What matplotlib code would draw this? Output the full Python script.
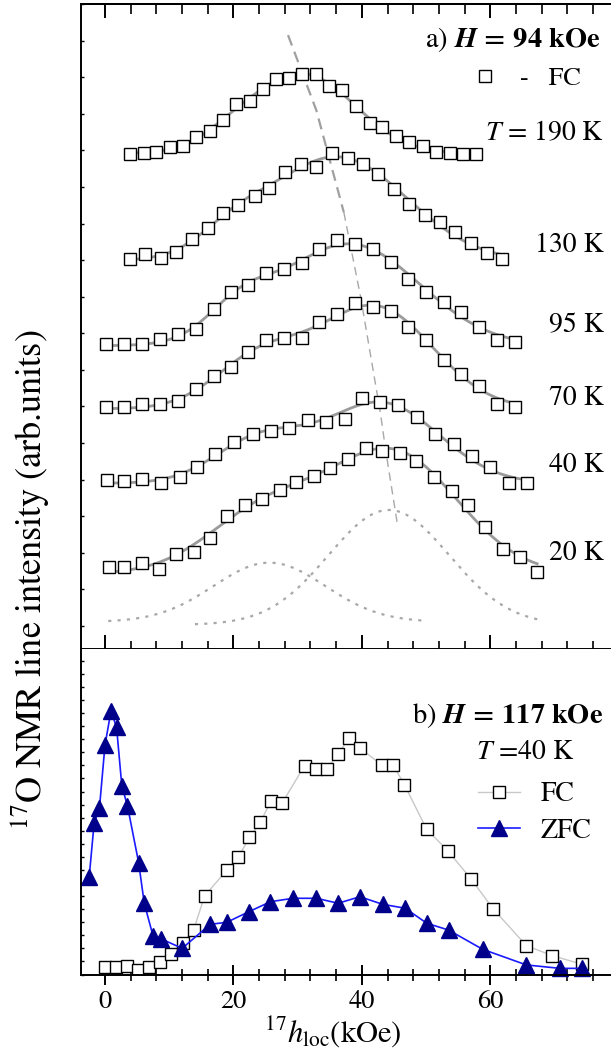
import numpy as np
import matplotlib
matplotlib.use('Agg')
import matplotlib.pyplot as plt
from matplotlib.ticker import MultipleLocator

plt.rcParams['font.family'] = 'STIXGeneral'
plt.rcParams['mathtext.fontset'] = 'stix'

# ---- a) H = 94 kOe, FC spectra (stacked, arb. units) ----
x190 = [3.9, 6.0, 8.0, 10.1, 12.1, 14.2, 16.3, 18.4, 20.4, 22.6, 24.6, 26.6, 28.7, 30.7,
        32.9, 34.9, 36.9, 39.1, 41.2, 43.2, 45.3, 47.4, 49.5, 51.5, 53.7, 55.7, 57.7]
y190 = [12.90, 12.93, 12.95, 13.09, 13.12, 13.37, 13.52, 13.83, 14.27, 14.35, 14.67, 14.95, 14.97, 15.08,
        15.09, 14.76, 14.66, 14.21, 13.75, 13.63, 13.40, 13.23, 13.12, 12.96, 12.94, 12.90, 12.90]

x130 = [3.9, 6.3, 8.7, 11.1, 13.6, 16.0, 18.3, 20.7, 23.3, 25.6, 28.0, 30.5, 32.9, 35.3,
        37.8, 40.1, 42.5, 45.0, 47.4, 49.8, 52.2, 54.5, 57.0, 59.5, 61.8]
y130 = [10.02, 10.16, 10.07, 10.23, 10.57, 10.87, 11.30, 11.51, 11.75, 11.96, 12.42, 12.64, 12.55, 12.93,
        12.79, 12.64, 12.36, 11.95, 11.54, 11.24, 11.04, 10.77, 10.47, 10.20, 10.03]

x95 = [0.2, 3.0, 5.8, 8.6, 11.4, 14.1, 16.9, 19.6, 22.3, 25.1, 27.9, 30.6, 33.4, 36.2,
       39.0, 41.8, 44.5, 47.2, 50.0, 52.8, 55.5, 58.3, 61.1, 63.8]
y95 = [7.70, 7.70, 7.70, 7.84, 7.98, 8.13, 8.65, 9.13, 9.31, 9.64, 9.76, 9.93, 10.29, 10.55,
       10.43, 10.29, 9.95, 9.48, 9.13, 8.85, 8.57, 8.17, 7.81, 7.75]

x70 = x95
y70 = [5.98, 5.99, 6.08, 6.07, 6.14, 6.48, 6.84, 7.07, 7.48, 7.81, 7.87, 7.87, 8.31, 8.54,
       8.83, 8.72, 8.61, 8.18, 7.81, 7.27, 6.90, 6.56, 6.07, 5.98]

x40 = [0.3, 3.0, 5.8, 8.7, 11.6, 14.4, 17.2, 20.1, 23.0, 25.9, 28.7, 31.6, 34.4, 37.3,
       40.0, 42.9, 45.7, 48.6, 51.4, 54.3, 57.1, 60.0, 62.9, 65.7]
y40 = [3.99, 3.97, 4.01, 3.90, 4.08, 4.35, 4.70, 5.03, 5.24, 5.34, 5.41, 5.63, 5.57, 5.65,
       6.22, 6.13, 6.04, 5.72, 5.25, 4.97, 4.64, 4.34, 3.92, 3.92]

x20 = [0.6, 3.0, 5.7, 8.4, 11.1, 13.8, 16.3, 19.0, 21.8, 24.4, 27.2, 29.8, 32.5, 35.1,
       37.8, 40.6, 43.2, 45.9, 48.5, 51.2, 54.0, 56.6, 59.2, 62.0, 64.6, 67.3]
y20 = [1.62, 1.62, 1.73, 1.57, 1.97, 2.03, 2.41, 3.01, 3.30, 3.46, 3.72, 3.93, 4.10, 4.33,
       4.56, 4.86, 4.78, 4.72, 4.51, 4.08, 3.70, 3.31, 2.71, 2.11, 1.88, 1.48]

temp_labels = [r'$T$ = 190 K', '130 K', '95 K', '70 K', '40 K', '20 K']
label_ypix = [134, 245, 326, 398, 465, 553]

# 20 K decomposition into two lines (dotted)
comp_center = [25.6, 44.2]
comp_sigma = [8.7, 9.4]
comp_amp = [1.62, 3.14]
comp_base = [0.11, 0.03]
comp_xmin = [0.5, 14.0]
comp_xmax = [49.3, 67.5]

# line through the peak positions
peak_x = [28.5, 32.9, 37.2, 39.8, 42.9, 43.7, 45.6]
peak_y = [16.15, 14.10, 11.30, 9.00, 5.81, 4.81, 2.71]

# ---- b) H = 117 kOe, T = 40 K ----
fc_x = [0.0, 1.75, 3.44, 5.19, 6.88, 8.63, 10.32, 12.07, 13.81, 15.51, 19.0, 20.75, 22.5, 24.19,
        25.88, 27.57, 31.07, 32.81, 34.51, 36.31, 38.0, 39.75, 43.13, 44.88, 46.63, 50.07,
        53.45, 57.0, 60.5, 65.63, 69.67, 74.31]
fc_y = [0.60, 0.60, 0.65, 0.32, 0.60, 0.98, 1.57, 2.39, 3.43, 6.01, 8.00, 8.97, 10.50, 11.65,
        13.30, 13.10, 15.98, 15.75, 15.75, 16.85, 18.12, 17.31, 16.01, 16.01, 14.52, 11.13,
        9.43, 7.31, 4.99, 2.20, 1.44, 0.78]
zfc_x = [-2.46, -1.69, -0.87, 0.0, 0.93, 1.8, 2.62, 3.49, 5.24, 6.11, 7.48, 8.68, 12.01, 16.38,
         18.95, 22.39, 25.77, 29.27, 32.92, 36.31, 39.69, 43.24, 46.74, 50.12, 53.51, 58.8,
         65.63, 70.87, 74.31]
zfc_y = [7.48, 11.61, 12.72, 17.56, 20.16, 18.91, 14.42, 12.92, 8.55, 5.45, 2.95, 2.74, 2.00, 3.84,
         3.99, 4.80, 5.57, 5.83, 5.83, 5.45, 5.95, 5.37, 5.07, 3.92, 3.40, 1.93, 0.73, 0.47, 0.47]


def gauss(x, c, s):
    return np.exp(-(x - c) ** 2 / (2 * s ** 2))


def two_line_fit(x, y):
    # baseline + two gaussian lines, least squares over a grid of centres/widths
    x = np.asarray(x, float)
    y = np.asarray(y, float)
    C, S = np.meshgrid(np.arange(10, 50.5, 1.0), np.arange(4, 14.5, 1.0))
    C, S = C.ravel(), S.ravel()
    G = gauss(x[None, :], C[:, None], S[:, None])
    K = len(C)
    g1 = G.sum(1)
    gg = G @ G.T
    gy = G @ y
    d = np.diag(gg)
    M = np.zeros((K, K, 3, 3))
    M[..., 0, 0] = len(x)
    M[..., 0, 1] = M[..., 1, 0] = g1[:, None]
    M[..., 0, 2] = M[..., 2, 0] = g1[None, :]
    M[..., 1, 1] = d[:, None]
    M[..., 2, 2] = d[None, :]
    M[..., 1, 2] = M[..., 2, 1] = gg
    M += 1e-6 * np.eye(3)
    b = np.stack([np.full((K, K), y.sum()),
                  np.broadcast_to(gy[:, None], (K, K)),
                  np.broadcast_to(gy[None, :], (K, K))], -1)
    coef = np.linalg.solve(M, b[..., None])[..., 0]
    sse = y @ y - (coef * b).sum(-1)
    bad = (C[:, None] >= C[None, :]) | (coef[..., 1] < 0) | (coef[..., 2] < 0)
    sse[bad] = np.inf
    i, j = np.unravel_index(np.argmin(sse), sse.shape)
    a0, a1, a2 = coef[i, j]
    xs = np.linspace(x.min(), x.max(), 300)
    return xs, a0 + a1 * gauss(xs, C[i], S[i]) + a2 * gauss(xs, C[j], S[j])


W, H = 611, 1059
fig = plt.figure(figsize=(W / 100, H / 100), dpi=100)
ax1 = fig.add_axes([81 / W, 1 - 649 / H, 530 / W, 645 / H])
ax2 = fig.add_axes([81 / W, 1 - 974.5 / H, 530 / W, 326 / H])

for ax in (ax1, ax2):
    ax.set_xlim(-3.74, 78.8)
    ax.spines['right'].set_visible(False)
    for sp in ax.spines.values():
        sp.set_linewidth(1.4)
    ax.xaxis.set_major_locator(MultipleLocator(20))
    ax.xaxis.set_minor_locator(MultipleLocator(4))
    ax.yaxis.set_major_locator(MultipleLocator(1))
    ax.tick_params(axis='y', which='major', direction='in', length=2.5, width=1.0, labelleft=False)
    ax.tick_params(axis='x', which='major', direction='inout', length=14, width=1.4,
                   labelsize=19, pad=4)
    ax.tick_params(axis='x', which='minor', direction='inout', length=8, width=1.2)

# ---- panel a ----
ax1.set_ylim(-0.63, 17.0)
ax1.tick_params(axis='x', which='major', length=20, pad=6)
ax1.tick_params(axis='x', which='minor', length=12)
top = ax1.secondary_xaxis('top')
top.xaxis.set_major_locator(MultipleLocator(20))
top.xaxis.set_minor_locator(MultipleLocator(4))
top.tick_params(which='major', direction='in', length=10, width=1.4, labeltop=False)
top.tick_params(which='minor', direction='in', length=7, width=1.2)
top.spines['top'].set_linewidth(1.4)

curves = [(x190, y190), (x130, y130), (x95, y95), (x70, y70), (x40, y40), (x20, y20)]
for i, (xd, yd) in enumerate(curves):
    xs, ys = two_line_fit(xd, yd)
    ax1.plot(xs, ys, color='#9a9a9a', lw=2.0, zorder=2)
    pts, = ax1.plot(xd, yd, ls='none', marker='s', ms=8.5, mfc='white', mec='black',
                    mew=1.0, zorder=3)
    fig.text(604 / W, 1 - label_ypix[i] / H, temp_labels[i], ha='right', va='center', fontsize=20)

for c, s, a, b, lo, hi in zip(comp_center, comp_sigma, comp_amp, comp_base, comp_xmin, comp_xmax):
    xs = np.linspace(lo, hi, 200)
    ax1.plot(xs, b + a * gauss(xs, c, s), color='#a8a8a8', lw=1.6, ls=(0, (1.4, 2.8)))

ax1.plot(peak_x[:3], peak_y[:3], color='#a0a0a0', lw=1.6, ls=(0, (5, 3)))
ax1.plot(peak_x[2:], peak_y[2:], color='#a8a8a8', lw=1.0, ls=(0, (6, 4)))

fig.text(600 / W, 1 - 40 / H, r'a) $\mathbfit{H}\,\mathbf{=\,94\ kOe}$', ha='right', va='center',
         fontsize=20.5)
ax1.legend([pts], [u'-   FC'], loc='center left', bbox_to_anchor=(472 / W, 1 - 79 / H),
           bbox_transform=fig.transFigure, frameon=False, fontsize=19, handlelength=1.0,
           handletextpad=0.83, borderpad=0, borderaxespad=0)

# ---- panel b ----
ax2.set_ylim(0, 24.94)
ax2.tick_params(axis='x', top=False)
ax2.spines['top'].set_visible(False)
ax2.plot(fc_x, fc_y, color='#c8c8c8', lw=1.0, marker='s', ms=8.5, mfc='white', mec='black',
         mew=1.0, label='FC')
ax2.plot(zfc_x, zfc_y, color='#1a1aff', lw=1.2, marker='^', ms=11, mfc='#00008b', mec='#00008b',
         label='ZFC', clip_on=False)
ax2.set_xlabel(r'$^{17}h_{\rm loc}$(kOe)', fontsize=22)
ax2.xaxis.set_label_coords((333 - 81) / 530, -0.12)

fig.text(603 / W, 1 - 715 / H, r'b) $\mathbfit{H}\,\mathbf{=\,117\ kOe}$', ha='right', va='center',
         fontsize=20.5)
fig.text(476 / W, 1 - 752 / H, r'$T$ =40 K', ha='left', va='center', fontsize=20)
ax2.legend(loc='upper left', bbox_to_anchor=(478 / W, 1 - 782 / H), bbox_transform=fig.transFigure,
           frameon=False, fontsize=20, handlelength=1.5, handletextpad=0.75, labelspacing=0.4,
           borderpad=0, borderaxespad=0)

fig.text(30 / W, 1 - 580 / H, r'$^{17}$O NMR line intensity (arb.units)', rotation=90,
         ha='center', va='center', fontsize=26)

fig.savefig('out.png', dpi=100)
